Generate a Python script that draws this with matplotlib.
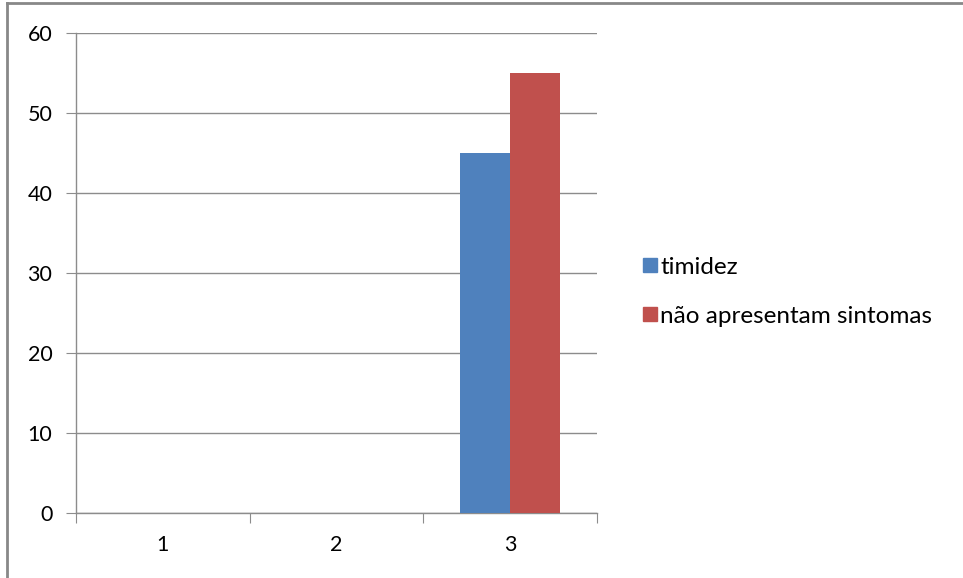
import matplotlib.pyplot as plt
from matplotlib.lines import Line2D
import numpy as np

categories = ["1", "2", "3"]
timidez = [0, 0, 45]
sem_sintomas = [0, 0, 55]
series_names = ["timidez", "não apresentam sintomas"]
colors = ["#4f81bd", "#c0504d"]

plt.rcParams['font.family'] = ['Lato', 'DejaVu Sans']

fig = plt.figure(figsize=(9.63, 5.78), dpi=100)
ax = fig.add_axes([0.079, 0.1125, 0.541, 0.8305])

x = np.arange(1, len(categories) + 1)
w = 0.287
ax.bar(x - w / 2, timidez, width=w, color=colors[0], zorder=3)
ax.bar(x + w / 2, sem_sintomas, width=w, color=colors[1], zorder=3)

ax.set_xlim(0.5, 3.5)
ax.set_ylim(0, 60)
ax.set_yticks(range(0, 61, 10))
ax.yaxis.grid(True, color="#8c8c8c", linewidth=1, zorder=0)

# category ticks sit on the boundaries, labels sit in the middle
ax.set_xticks([0.5, 1.5, 2.5, 3.5])
ax.set_xticklabels([])
ax.set_xticks(x, minor=True)
ax.set_xticklabels(categories, minor=True)
ax.tick_params(axis="x", which="major", length=7, color="#8c8c8c", direction="out")
ax.tick_params(axis="x", which="minor", length=0, pad=16, labelsize=15.5)
ax.tick_params(axis="y", length=7, color="#8c8c8c", pad=10, labelsize=15.5)

for side in ["top", "right"]:
    ax.spines[side].set_visible(False)
for side in ["left", "bottom"]:
    ax.spines[side].set_color("#8c8c8c")
    ax.spines[side].set_linewidth(1)

handles = [Line2D([], [], marker="s", linestyle="none", markersize=10,
                  markerfacecolor=c, markeredgecolor=c) for c in colors]
fig.legend(handles, series_names, loc="upper left", bbox_to_anchor=(0.64, 0.594),
           frameon=False, fontsize=17.5, handletextpad=-0.1, labelspacing=1.15,
           handlelength=1.0)

# outer frame along top and left edges
fig.add_artist(Line2D([0.0075, 1.0], [0.995, 0.995], color="#888888", linewidth=2))
fig.add_artist(Line2D([0.0075, 0.0075], [0.0, 0.995], color="#888888", linewidth=2))

fig.savefig("out.png", dpi=100)
